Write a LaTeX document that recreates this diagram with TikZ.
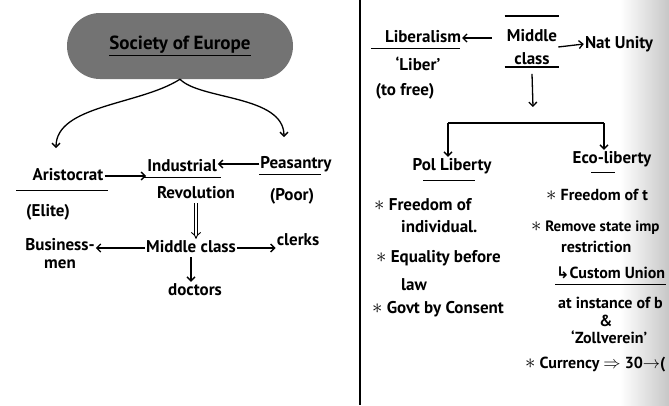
\documentclass[tikz,border=0pt]{standalone}
\usepackage{fontspec}
\setmainfont{PT Sans}
\newfontfamily\symfont{DejaVu Sans}
\usetikzlibrary{arrows.meta,calc}
\newcommand{\bul}{{\fontsize{22}{22}\selectfont$\ast$}}

\begin{document}
\begin{tikzpicture}[x=1pt, y=-1pt,
  txt/.style={font=\fontsize{17}{19}\selectfont\bfseries, inner sep=1pt, text height=12pt, text depth=4pt},
  txtm/.style={font=\fontsize{17}{19}\selectfont\bfseries, inner sep=1pt, align=center},
  ecotxt/.style={txt, font=\fontsize{16}{18}\selectfont\bfseries, anchor=west},
  pill/.style={fill=black!55, rounded corners=33pt, minimum width=226pt, minimum height=66pt, font=\fontsize{19}{21}\selectfont\bfseries},
  arr/.style={-{Straight Barb[length=4pt,width=8pt]}, line width=1.3pt},
  dblarr/.style={double, double distance=2.5pt, line width=0.9pt, -{Implies}},
  ulin/.style={line width=1.3pt},
]
  \useasboundingbox (0,0) rectangle (669,405);
  \clip (0,0) rectangle (669,405);
  \shade[left color=white, right color=black!22] (620,0) rectangle (669,405);

  % left page
  \node[pill] (soc) at (180,46) {\underline{Society of Europe}};
  \node[txt] (aris) at (68,176) {Aristocrat};
  \node[txt] (elite) at (48,212) {(Elite)};
  \node[txt] (ind) at (182,167) {Industrial};
  \node[txt] (rev) at (196,194) {Revolution};
  \node[txt] (peas) at (296,164) {Peasantry};
  \node[txt] (poor) at (292,196) {(Poor)};
  \node[txt] (midl) at (191,248) {Middle class};
  \node[txtm, font=\fontsize{17}{18}\selectfont\bfseries] (bus) at (60,254) {Business-\\men};
  \node[txt] (clerks) at (298,241) {clerks};
  \node[txt] (doc) at (195,291) {doctors};

  \coordinate (lt) at (56,148);
  \coordinate (rt) at (284,137);
  \draw[arr] (soc.south) .. controls (140,105) and (56,105) .. (lt);
  \draw[arr] (soc.south) .. controls (200,100) and (284,95) .. (rt);

  \draw[ulin] ($(aris.south west)+(-15,5)$) -- ($(aris.south east)+(3,5)$);
  \draw[ulin] ($(ind.south west)+(-3,1)$) -- ($(ind.south east)+(3,1)$);
  \draw[ulin] ($(peas.south west)+(0,1)$) -- ($(peas.south east)+(-12,1)$);

  \draw[arr] (aris.east) -- (aris.east -| ind.west);
  \draw[arr] (peas.west) -- (peas.west -| ind.east);
  \draw[dblarr] (rev.south) -- (rev.south |- midl.north);
  \draw[arr] (midl.west) -- (midl.west -| bus.east);
  \draw[arr] (midl.east) -- (midl.east -| clerks.west);
  \draw[arr] (midl.south) -- (midl.south |- doc.north);

  % divider
  \draw[ulin] (360,0) -- (360,405);

  % right page
  \node[txt] (lib) at (423,38) {Liberalism};
  \node[txt] (liber) at (418,66) {`Liber'};
  \node[txt] (tofree) at (405,91) {(to free)};
  \node[txtm, font=\fontsize{17}{23}\selectfont\bfseries] (midr) at (532,47) {Middle\\class};
  \node[txt] (nat) at (619,44) {Nat Unity};

  \draw[ulin] ($(lib.south west)+(-13,1)$) -- ($(lib.south east)+(-2,1)$);
  \draw[ulin] ($(midr.north west)+(-1,-12)$) -- ($(midr.north east)+(1,-12)$);
  \draw[ulin] ($(midr.south west)+(-1,1)$) -- ($(midr.south east)+(1,1)$);

  \draw[arr, shorten <=14pt] (midr.west |- lib.east) -- (lib.east);
  \draw[arr] (midr.east) -- (nat.west);

  \coordinate (split) at (533,107);
  \coordinate (bl) at (448,123);
  \coordinate (br) at (604,123);
  \draw[arr] ([yshift=-8pt]midr.south) -- (split);
  \draw[ulin] (bl) -- (br);

  \node[txt] (pol) at (452,166) {Pol Liberty};
  \node[txt] (eco) at (612,159) {Eco-liberty};
  \draw[arr] (bl) -- (bl |- pol.north);
  \draw[arr] (br) -- (br |- eco.north);
  \draw[ulin] ($(pol.south west)+(12,5)$) -- ($(pol.south east)+(-18,5)$);
  \draw[ulin] ($(eco.south west)+(20,4)$) -- ($(eco.south east)+(-38,4)$);

  \node[txt, anchor=west] (fr1) at (373,206) {\bul{} Freedom of};
  \node[txt, anchor=west] (indv) at (400,228) {individual.};
  \node[txt, anchor=west] (eq) at (375,258) {\bul{} Equality before};
  \node[txt, anchor=west] (law) at (400,286) {law};
  \node[txt, anchor=west] (govt) at (371,309) {\bul{} Govt by Consent};

  \node[ecotxt] (fr2) at (545,196) {\bul{} Freedom of t};
  \node[ecotxt, font=\fontsize{15}{17}\selectfont\bfseries] (rem) at (530,227) {\bul{} Remove state imp};
  \node[ecotxt] (restr) at (560,248) {restriction};
  \node[ecotxt] (cu) at (555,274) {{\symfont ↳}Custom Union};
  \node[ecotxt] (inst) at (557,304) {at instance of b};
  \node[txt, font=\fontsize{16}{18}\selectfont\bfseries] (amp) at (606,322) {\&};
  \node[ecotxt] (zoll) at (570,339) {`Zollverein'};
  \node[ecotxt] (cur) at (524,364) {\bul{} Currency $\Rightarrow$ 30$\rightarrow$(};
  \draw[ulin] ($(cu.south west)+(0,1)$) -- ($(cu.south east)+(0,1)$);
\end{tikzpicture}
\end{document}
